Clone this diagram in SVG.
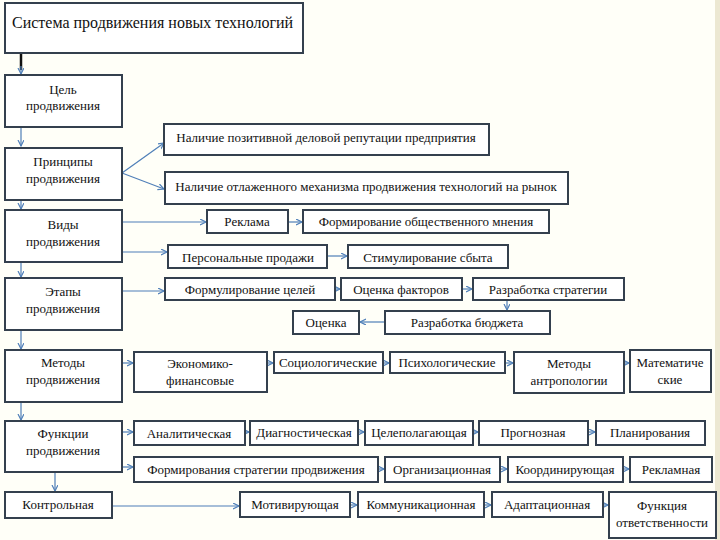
<svg xmlns="http://www.w3.org/2000/svg" width="720" height="540" viewBox="0 0 720 540">
<defs>
<style>
.b{fill:#ffffff;stroke:#34404e;stroke-width:2}
text{font-family:"Times New Roman","Liberation Serif",Tinos,"Noto Serif","DejaVu Serif",serif;fill:#111}
.t{font-size:13px;text-anchor:middle}
.tt{font-size:16px}
.c{fill:none;stroke:#4f7fb8;stroke-width:1.2;marker-end:url(#a)}
</style>
<marker id="a" markerWidth="8" markerHeight="8" refX="6" refY="3" orient="auto" markerUnits="userSpaceOnUse">
<path d="M0,0 L6,3 L0,6" fill="none" stroke="#4f7fb8" stroke-width="1.2"/>
</marker>
</defs>
<rect x="0" y="0" width="720" height="540" fill="#fffff8"/>
<rect x="715" y="0" width="5" height="540" fill="#ece8d2"/>

<g id="connectors">
<line x1="21" y1="54" x2="21" y2="70" stroke="#111" stroke-width="2.5"/>
<line class="c" x1="21" y1="66" x2="21" y2="74"/>
<line class="c" x1="21" y1="128" x2="21" y2="146"/>
<line class="c" x1="122" y1="173" x2="164" y2="143"/>
<line class="c" x1="122" y1="173" x2="164" y2="189"/>
<line class="c" x1="21" y1="201" x2="21" y2="209"/>
<line class="c" x1="122" y1="222" x2="206" y2="222"/>
<line class="c" x1="122" y1="252" x2="167" y2="252"/>
<line class="c" x1="288" y1="222" x2="302" y2="222"/>
<line class="c" x1="327" y1="256" x2="347" y2="256"/>
<line class="c" x1="21" y1="263" x2="21" y2="277"/>
<line class="c" x1="122" y1="291" x2="164" y2="291"/>
<line class="c" x1="335" y1="289" x2="340" y2="289"/>
<line class="c" x1="462" y1="289" x2="472" y2="289"/>
<line class="c" x1="507" y1="301" x2="507" y2="310"/>
<line class="c" x1="385" y1="322" x2="360" y2="322"/>
<line class="c" x1="21" y1="331" x2="21" y2="349"/>
<line class="c" x1="122" y1="363" x2="133" y2="363"/>
<line class="c" x1="267" y1="363" x2="273" y2="363"/>
<line class="c" x1="383" y1="363" x2="389" y2="363"/>
<line class="c" x1="505" y1="363" x2="513" y2="363"/>
<line class="c" x1="624" y1="363" x2="629" y2="363"/>
<line class="c" x1="21" y1="403" x2="21" y2="420"/>
<line class="c" x1="122" y1="432" x2="133" y2="432"/>
<line class="c" x1="245" y1="432" x2="249" y2="432"/>
<line class="c" x1="358" y1="432" x2="364" y2="432"/>
<line class="c" x1="473" y1="432" x2="478" y2="432"/>
<line class="c" x1="588" y1="432" x2="595" y2="432"/>
<line class="c" x1="122" y1="467" x2="133" y2="467"/>
<line class="c" x1="378" y1="469" x2="384" y2="469"/>
<line class="c" x1="500" y1="469" x2="507" y2="469"/>
<line class="c" x1="623" y1="469" x2="629" y2="469"/>
<line class="c" x1="55" y1="473" x2="55" y2="491"/>
<line class="c" x1="112" y1="506" x2="239" y2="506"/>
<line class="c" x1="350" y1="505" x2="357" y2="505"/>
<line class="c" x1="484" y1="505" x2="491" y2="505"/>
<line class="c" x1="603" y1="505" x2="608" y2="505"/>
</g>

<g id="title"><rect class="b" x="5" y="3" width="298" height="50"/><text class="tt" x="12" y="28">Система продвижения новых технологий</text></g>
<g id="goal"><rect class="b" x="5" y="75" width="117" height="52"/><text class="t" x="63" y="94">Цель</text><text class="t" x="63" y="110">продвижения</text></g>
<g id="principles"><rect class="b" x="5" y="148" width="117" height="52"/><text class="t" x="63" y="166">Принципы</text><text class="t" x="63" y="183">продвижения</text></g>
<g id="p1"><rect class="b" x="164" y="124" width="325" height="31"/><text class="t" x="326" y="142">Наличие позитивной деловой репутации предприятия</text></g>
<g id="p2"><rect class="b" x="165" y="172" width="403" height="32"/><text class="t" x="366" y="191">Наличие отлаженного механизма продвижения технологий на рынок</text></g>
<g id="types"><rect class="b" x="5" y="210" width="117" height="52"/><text class="t" x="63" y="229">Виды</text><text class="t" x="63" y="246">продвижения</text></g>
<g id="ads"><rect class="b" x="207" y="210" width="81" height="23"/><text class="t" x="247" y="226">Реклама</text></g>
<g id="pr"><rect class="b" x="303" y="210" width="246" height="23"/><text class="t" x="426" y="226">Формирование общественного мнения</text></g>
<g id="sales"><rect class="b" x="168" y="245" width="159" height="23"/><text class="t" x="248" y="262">Персональные продажи</text></g>
<g id="stim"><rect class="b" x="348" y="245" width="160" height="23"/><text class="t" x="428" y="262">Стимулирование сбыта</text></g>
<g id="stages"><rect class="b" x="5" y="278" width="117" height="52"/><text class="t" x="63" y="296">Этапы</text><text class="t" x="63" y="313">продвижения</text></g>
<g id="s1"><rect class="b" x="165" y="278" width="170" height="22"/><text class="t" x="250" y="294">Формулирование целей</text></g>
<g id="s2"><rect class="b" x="341" y="278" width="121" height="22"/><text class="t" x="401" y="294">Оценка факторов</text></g>
<g id="s3"><rect class="b" x="473" y="278" width="151" height="22"/><text class="t" x="548" y="294">Разработка стратегии</text></g>
<g id="s4"><rect class="b" x="385" y="311" width="165" height="23"/><text class="t" x="467" y="327">Разработка бюджета</text></g>
<g id="s5"><rect class="b" x="293" y="311" width="66" height="23"/><text class="t" x="326" y="327">Оценка</text></g>
<g id="methods"><rect class="b" x="5" y="350" width="117" height="52"/><text class="t" x="63" y="367">Методы</text><text class="t" x="63" y="384">продвижения</text></g>
<g id="m1"><rect class="b" x="134" y="352" width="133" height="40"/><text class="t" x="200" y="368">Экономико-</text><text class="t" x="200" y="385">финансовые</text></g>
<g id="m2"><rect class="b" x="274" y="352" width="109" height="21"/><text class="t" x="328" y="367">Социологические</text></g>
<g id="m3"><rect class="b" x="390" y="352" width="115" height="21"/><text class="t" x="447" y="367">Психологические</text></g>
<g id="m4"><rect class="b" x="514" y="352" width="110" height="41"/><text class="t" x="569" y="368">Методы</text><text class="t" x="569" y="385">антропологии</text></g>
<g id="m5"><rect class="b" x="630" y="350" width="81" height="42"/><text class="t" x="670" y="367">Математиче</text><text class="t" x="670" y="384">ские</text></g>
<g id="functions"><rect class="b" x="5" y="421" width="117" height="51"/><text class="t" x="63" y="438">Функции</text><text class="t" x="63" y="455">продвижения</text></g>
<g id="f1"><rect class="b" x="134" y="421" width="111" height="24"/><text class="t" x="189" y="438">Аналитическая</text></g>
<g id="f2"><rect class="b" x="250" y="421" width="108" height="24"/><text class="t" x="304" y="437">Диагностическая</text></g>
<g id="f3"><rect class="b" x="365" y="421" width="108" height="24"/><text class="t" x="419" y="437">Целеполагающая</text></g>
<g id="f4"><rect class="b" x="479" y="421" width="109" height="24"/><text class="t" x="533" y="437">Прогнозная</text></g>
<g id="f5"><rect class="b" x="596" y="421" width="109" height="24"/><text class="t" x="650" y="437">Планирования</text></g>
<g id="f6"><rect class="b" x="134" y="457" width="244" height="25"/><text class="t" x="256" y="474">Формирования стратегии продвижения</text></g>
<g id="f7"><rect class="b" x="385" y="457" width="115" height="25"/><text class="t" x="442" y="474">Организационная</text></g>
<g id="f8"><rect class="b" x="508" y="457" width="115" height="25"/><text class="t" x="565" y="474">Координирующая</text></g>
<g id="f9"><rect class="b" x="630" y="457" width="82" height="25"/><text class="t" x="671" y="474">Рекламная</text></g>
<g id="f10"><rect class="b" x="5" y="492" width="107" height="26"/><text class="t" x="58" y="509">Контрольная</text></g>
<g id="f11"><rect class="b" x="240" y="492" width="110" height="25"/><text class="t" x="295" y="509">Мотивирующая</text></g>
<g id="f12"><rect class="b" x="358" y="492" width="126" height="25"/><text class="t" x="421" y="509">Коммуникационная</text></g>
<g id="f13"><rect class="b" x="492" y="492" width="111" height="25"/><text class="t" x="547" y="509">Адаптационная</text></g>
<g id="f14"><rect class="b" x="609" y="492" width="107" height="46"/><text class="t" x="662" y="510">Функция</text><text class="t" x="662" y="527">ответственности</text></g>
</svg>
